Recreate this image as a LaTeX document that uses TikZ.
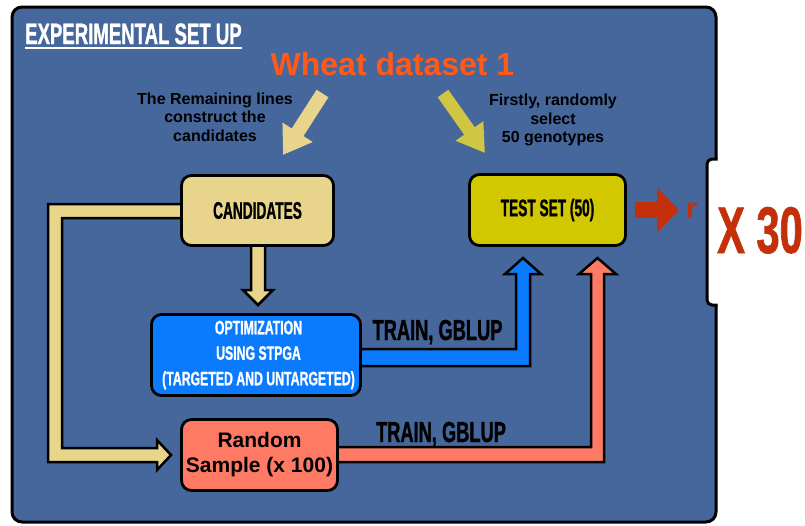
\documentclass[tikz,border=0pt]{standalone}
\usepackage{fontspec}
\setmainfont{Liberation Sans}
\newfontfamily\condA[FakeStretch=0.57,FakeBold=1]{Liberation Sans}
\newfontfamily\condB[FakeStretch=0.63,FakeBold=1]{Liberation Sans}
\usetikzlibrary{arrows.meta}
\definecolor{panel}{RGB}{69,103,156}
\definecolor{beige}{RGB}{232,212,138}
\definecolor{olive}{RGB}{210,200,0}
\definecolor{olivearrow}{RGB}{207,198,67}
\definecolor{vivblue}{RGB}{10,123,255}
\definecolor{salmon}{RGB}{255,122,101}
\definecolor{orangetxt}{RGB}{255,90,26}
\definecolor{darkred}{RGB}{196,48,10}
\tikzset{
  box/.style={draw=black, line width=2.8pt, rounded corners=10pt, inner sep=0pt, align=center},
  band/.style={draw=black, line width=2.5pt, line join=miter},
  cnda/.style={font=\condA\bfseries\fontsize{#1}{#1}\selectfont},
  cndb/.style={font=\condB\bfseries\fontsize{#1}{#1}\selectfont},
  helv/.style={font=\bfseries\fontsize{#1}{#1}\selectfont}
}
\begin{document}
\begin{tikzpicture}[x=1pt,y=-1pt]
\useasboundingbox (0,0) rectangle (805,525);
% panel
\draw[fill=panel, line width=3pt, rounded corners=10pt] (12,7) rectangle (716,522);
% notch on the right edge
\fill[white] (707,159) rectangle (722,305);
\draw[line width=3pt, rounded corners=5pt] (717.5,159) -- (707,159) -- (707,305) -- (717.5,305);
% title
\node[anchor=base west, inner sep=0pt, text=white, cndb=29.5] (title) at (25,44) {EXPERIMENTAL SET UP};
\draw[white, line width=2pt] ([yshift=-4pt]title.base west) -- ([yshift=-4pt]title.base east);
% heading
\node[anchor=base, inner sep=0pt, text=orangetxt, helv=32] (wheat) at (392.5,75) {Wheat dataset 1};
\node[align=center, inner sep=0pt, text=black, font=\bfseries\fontsize{16}{18.5}\selectfont] (remtxt) at (215,117) {The Remaining lines\\construct the\\candidates};
\node[align=center, inner sep=0pt, text=black, font=\bfseries\fontsize{16}{18.5}\selectfont] (firsttxt) at (553,120) {Firstly, randomly\\select\\50 genotypes};
% top arrows
\coordinate (ba1) at (322.5,93.5);
\coordinate (ba2) at (283,155);
\draw[beige, line width=14pt, -{Triangle[width=34pt,length=27pt]}] (ba1) -- (ba2);
\coordinate (ya1) at (443,93.5);
\coordinate (ya2) at (485,153);
\draw[olivearrow, line width=13pt, -{Triangle[width=32pt,length=27pt]}] (ya1) -- (ya2);
% connector bands
\draw[band, fill=beige] (185,204) -- (48,204) -- (48,462) -- (157,462) -- (157,470) -- (171,455) -- (157,440) -- (157,448) -- (62,448) -- (62,218) -- (185,218) -- cycle;
\draw[band, fill=beige] (251,245) -- (251,290) -- (243,290) -- (258,305) -- (273,290) -- (265,290) -- (265,245) -- cycle;
\draw[band, fill=vivblue] (355,349) -- (516,349) -- (516,274) -- (505,274) -- (523,258) -- (541,274) -- (530,274) -- (530,366) -- (355,366) -- cycle;
\draw[band, fill=salmon] (330,447) -- (591,447) -- (591,274) -- (579,274) -- (597.5,258) -- (616,274) -- (604,274) -- (604,462) -- (330,462) -- cycle;
% boxes
\node[box, fill=beige, minimum width=152pt, minimum height=70pt, cnda=24] (cand) at (257.5,210.5) {CANDIDATES};
\node[box, fill=olive, minimum width=156pt, minimum height=71pt, cnda=24] (test) at (547.5,210) {TEST SET (50)};
\node[box, fill=vivblue, minimum width=209pt, minimum height=81pt, text=white, font=\condB\bfseries\fontsize{19.5}{25.5}\selectfont] (opt) at (256,355) {\hspace*{5pt}OPTIMIZATION\\\hspace*{5pt}USING STPGA\\\hspace*{5pt}(TARGETED AND UNTARGETED)};
\node[box, fill=salmon, minimum width=156pt, minimum height=71pt, font=\bfseries\fontsize{21}{25}\selectfont] (rand) at (259.5,455) {Random\\Sample (x 100)};
% labels
\node[anchor=base, inner sep=0pt, cndb=29] (tr1) at (437.5,340) {TRAIN, GBLUP};
\node[anchor=base, inner sep=0pt, cndb=29] (tr2) at (441,442) {TRAIN, GBLUP};
% result arrow
\coordinate (ra1) at (635,210);
\coordinate (ra2) at (679,210);
\draw[darkred, line width=16pt, -{Triangle[width=44pt,length=22pt]}] (ra1) -- (ra2);
\node[anchor=base west, inner sep=0pt, text=darkred, helv=29] (r) at (686,218) {r};
\node[anchor=base, inner sep=0pt, text=darkred, cndb=66] (x30) at (760,253) {X 30};
\end{tikzpicture}
\end{document}
